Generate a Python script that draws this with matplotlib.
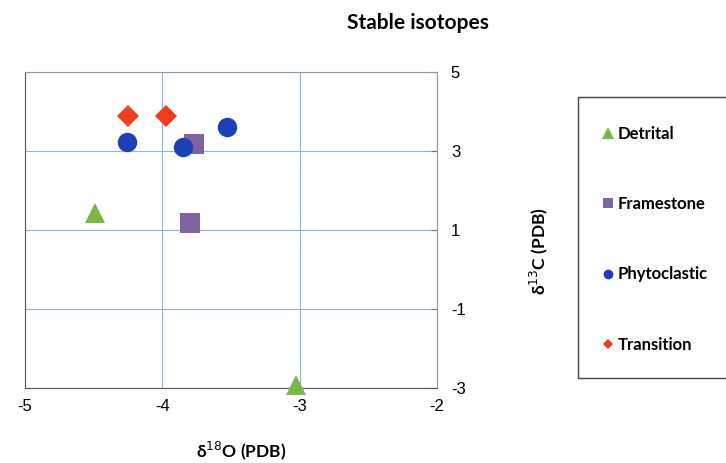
import matplotlib
matplotlib.use("Agg")
import matplotlib.pyplot as plt
from matplotlib.lines import Line2D
from matplotlib.patches import Rectangle

# data (d18O, d13C)
detrital_x = [-4.49, -3.03]
detrital_y = [1.42, -2.92]
framestone_x = [-3.77, -3.80]
framestone_y = [3.18, 1.18]
phyto_x = [-4.26, -3.85, -3.53]
phyto_y = [3.24, 3.11, 3.60]
transition_x = [-4.25, -3.97]
transition_y = [3.89, 3.89]

groups = ["Detrital", "Framestone", "Phytoclastic", "Transition"]
colors = ["#7ab648", "#8064a2", "#1f3fb4", "#f03c1e"]
markers = ["^", "s", "o", "D"]
sizes = [14, 14, 14, 11]
leg_sizes = [8, 6.5, 7, 5.5]

x_ticks = [-5, -4, -3, -2]
y_ticks = [-3, -1, 1, 3, 5]

plt.rcParams['font.family'] = ['Liberation Sans', 'DejaVu Sans']
bold_font = ['Lato', 'DejaVu Sans']

fig = plt.figure(figsize=(7.26, 4.63), dpi=100)
ax = fig.add_axes([25/726, 1-388/463, (437-25)/726, (388-72)/463])

series = [(detrital_x, detrital_y), (framestone_x, framestone_y),
          (phyto_x, phyto_y), (transition_x, transition_y)]
for (xs, ys), c, m, s in zip(series, colors, markers, sizes):
    ax.plot(xs, ys, linestyle='none', marker=m, color=c, markersize=s,
            markeredgewidth=0, clip_on=False, zorder=3)

ax.set_xlim(-5, -2)
ax.set_ylim(-3, 5)
ax.set_xticks(x_ticks)
ax.set_yticks(y_ticks)
ax.set_xticklabels([str(v) for v in x_ticks])
ax.set_yticklabels([str(v) for v in y_ticks])
ax.yaxis.tick_right()
ax.tick_params(axis='y', direction='in', length=4, pad=10, labelsize=12, color='#777777')
ax.tick_params(axis='x', length=0, pad=8, labelsize=12)
ax.grid(True, color='#8fb4d8', linewidth=0.8)
ax.set_axisbelow(True)
for side in ['left', 'bottom']:
    ax.spines[side].set_color('#555555')
for side in ['right', 'top']:
    ax.spines[side].set_color('#8a9aaa')

fig.text(418/726, 1-23/463, "Stable isotopes", ha='center', va='center',
         fontsize=15, fontweight='bold', family=bold_font)
fig.text(241/726, 1-451/463, "δ$^{18}$O (PDB)", ha='center', va='center',
         fontsize=12.5, fontweight='bold', family=bold_font)
fig.text(539/726, 1-251/463, "δ$^{13}$C (PDB)", ha='center', va='center',
         rotation=90, fontsize=12.5, fontweight='bold', family=bold_font)

# legend box runs off the right edge
fig.patches.append(Rectangle((578/726, 1-378/463), 200/726, (378-97)/463,
                             transform=fig.transFigure, fill=False,
                             edgecolor='#444444', linewidth=1))
handles = [Line2D([], [], linestyle='none', marker=m, color=c, markersize=s,
                  markeredgewidth=0) for c, m, s in zip(colors, markers, leg_sizes)]
fig.legend(handles, groups, loc='upper left', bbox_to_anchor=(602/726, 1-126/463),
           frameon=False, handlelength=0.7, handletextpad=0.25, labelspacing=3.25,
           borderaxespad=0, borderpad=0,
           prop={'family': bold_font, 'weight': 'bold', 'size': 12})

fig.savefig("out.png", dpi=100)
